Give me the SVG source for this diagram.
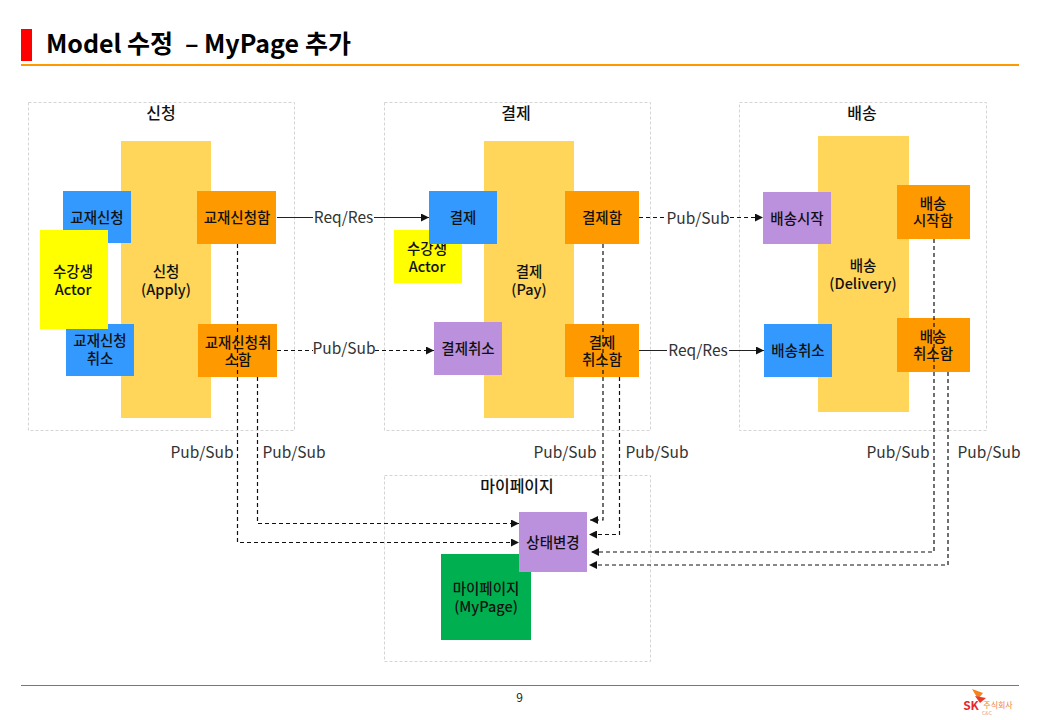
<svg xmlns="http://www.w3.org/2000/svg" width="1040" height="720" viewBox="0 0 1040 720">
<style>
text{font-family:"Noto Sans CJK KR","Noto Sans",sans-serif;fill:#111;text-anchor:middle}
.n{font-size:14.5px;font-weight:500}
.t{font-size:16px;font-weight:500}
.l{font-size:15.5px;font-weight:400;fill:#333}
.p{fill:#fff;stroke:#d4d4d4;stroke-width:1;stroke-dasharray:3 2}
.agg{fill:#ffd55a}.blue{fill:#3399ff}.or{fill:#ff9900}.pur{fill:#bb90dd}.yel{fill:#ffff00}.grn{fill:#00b050}
.c{fill:none;stroke:#111;stroke-width:1.2;stroke-dasharray:4 3}
.s{fill:none;stroke:#222;stroke-width:1.2}
.a{marker-end:url(#ah)}
.bg{fill:#fff}
.h{font-size:25px;font-weight:700;text-anchor:start;fill:#000}
</style>
<defs><marker id="ah" markerUnits="userSpaceOnUse" markerWidth="9" markerHeight="8" refX="8" refY="4" orient="auto"><path d="M0 0L8 4L0 8Z" fill="#111"/></marker></defs>
<rect x="21" y="29" width="11" height="32" fill="#ff0000"/>
<rect x="21" y="64" width="998" height="2" fill="#ff9900"/>
<text class="h" y="53"><tspan x="46">Model</tspan> <tspan x="127">수정</tspan> <tspan x="185">–</tspan> <tspan x="204">MyPage</tspan> <tspan x="305">추가</tspan></text>
<g id="panel-apply"><rect class="p" x="28.5" y="102.5" width="266" height="328"/><text class="t" x="161" y="119">신청</text></g>
<g id="panel-pay"><rect class="p" x="384.5" y="102.5" width="266" height="328"/><text class="t" x="516" y="119">결제</text></g>
<g id="panel-delivery"><rect class="p" x="739.5" y="102.5" width="247" height="328"/><text class="t" x="862" y="119">배송</text></g>
<g id="panel-mypage"><rect class="p" x="384.5" y="475.5" width="266" height="186"/><text class="t" x="517" y="492">마이페이지</text></g>
<g id="agg-apply"><rect class="agg" x="121" y="141" width="90" height="277"/><text class="n" x="166" y="277">신청</text><text class="n" x="166" y="295">(Apply)</text></g>
<g id="agg-pay"><rect class="agg" x="484" y="141" width="90" height="277"/><text class="n" x="529" y="277">결제</text><text class="n" x="529" y="295">(Pay)</text></g>
<g id="agg-delivery"><rect class="agg" x="818" y="136" width="91" height="276"/><text class="n" x="863" y="271">배송</text><text class="n" x="863" y="289">(Delivery)</text></g>
<g id="cmd-apply"><rect class="blue" x="63" y="191" width="68" height="52"/><text class="n" x="97" y="223">교재신청</text></g>
<g id="cmd-apply-cancel"><rect class="blue" x="66" y="324" width="68" height="52"/><text class="n" x="100" y="346">교재신청</text><text class="n" x="100" y="364">취소</text></g>
<g id="actor-apply"><rect class="yel" x="40" y="230" width="68" height="99"/><text class="n" x="73" y="277">수강생</text><text class="n" x="73" y="295">Actor</text></g>
<g id="ev-applied"><rect class="or" x="197" y="191" width="79" height="53"/><text class="n" x="237" y="223">교재신청함</text></g>
<g id="ev-apply-cancelled"><rect class="or" x="198" y="324" width="79" height="53"/><text class="n" x="238" y="348">교재신청취</text><text class="n" x="238" y="365">소함</text></g>
<g id="actor-pay"><rect class="yel" x="394" y="230" width="68" height="53"/><text class="n" x="427" y="254">수강생</text><text class="n" x="427" y="272">Actor</text></g>
<g id="cmd-pay"><rect class="blue" x="429" y="191" width="68" height="53"/><text class="n" x="463" y="223">결제</text></g>
<g id="pol-pay-cancel"><rect class="pur" x="434" y="322" width="68" height="53"/><text class="n" x="468" y="354">결제취소</text></g>
<g id="ev-paid"><rect class="or" x="565" y="191" width="74" height="53"/><text class="n" x="602" y="223">결제함</text></g>
<g id="ev-pay-cancelled"><rect class="or" x="565" y="324" width="74" height="53"/><text class="n" x="602" y="348">결제</text><text class="n" x="602" y="365">취소함</text></g>
<g id="pol-ship"><rect class="pur" x="763" y="192" width="68" height="52"/><text class="n" x="797" y="224">배송시작</text></g>
<g id="cmd-ship-cancel"><rect class="blue" x="764" y="324" width="68" height="53"/><text class="n" x="798" y="356">배송취소</text></g>
<g id="ev-shipped"><rect class="or" x="897" y="185" width="73" height="54"/><text class="n" x="933" y="209">배송</text><text class="n" x="933" y="226">시작함</text></g>
<g id="ev-ship-cancelled"><rect class="or" x="897" y="318" width="73" height="54"/><text class="n" x="933" y="342">배송</text><text class="n" x="933" y="359">취소함</text></g>
<g id="agg-mypage"><rect class="grn" x="441" y="554" width="90" height="86"/><text class="n" x="486" y="594">마이페이지</text><text class="n" x="486" y="612">(MyPage)</text></g>
<g id="pol-status"><rect class="pur" x="519" y="512" width="68" height="60"/><text class="n" x="553" y="548">상태변경</text></g>
<g id="connectors">
<path class="s a" d="M277 217.5H429"/>
<path class="c a" d="M277 350.500H434"/>
<path class="c a" d="M639 217.500H763"/>
<path class="s a" d="M639 350.500H764"/>
<path class="c a" d="M237.500 244V542.500H519"/>
<path class="c a" d="M257.500 377V523.500H519"/>
<path class="c a" d="M603 244V520H590"/>
<path class="c a" d="M619.500 377V534.500H589"/>
<path class="c a" d="M934 239V552H591"/>
<path class="c a" d="M948 372V565H589"/>
<rect class="bg" x="313" y="208" width="61" height="20"/><text class="l" x="343.500" y="223">Req/Res</text>
<rect class="bg" x="313" y="339" width="62" height="20"/><text class="l" x="344" y="354">Pub/Sub</text>
<rect class="bg" x="667" y="209" width="63" height="20"/><text class="l" x="698" y="224">Pub/Sub</text>
<rect class="bg" x="667" y="341" width="62" height="20"/><text class="l" x="698" y="356">Req/Res</text>
<text class="l" x="202" y="458">Pub/Sub</text>
<text class="l" x="294" y="458">Pub/Sub</text>
<text class="l" x="565" y="458">Pub/Sub</text>
<text class="l" x="657" y="458">Pub/Sub</text>
<text class="l" x="898" y="458">Pub/Sub</text>
<text class="l" x="989" y="458">Pub/Sub</text>
</g>
<rect x="21" y="685" width="998" height="1" fill="#777"/>
<text x="519.500" y="702" style="font-size:12px;fill:#222">9</text>
<g id="logo">
<path d="M972 689L983 693L978 699Z" fill="#f58220"/><path d="M975 696L986 698L980 703Z" fill="#e8392b"/>
<text x="971" y="710" style="font-size:12px;font-weight:700;fill:#e8262b">SK</text>
<text x="998" y="708" style="font-size:8px;fill:#f0803c">주식회사</text>
<text x="987" y="715" style="font-size:5px;fill:#f0a070">C&amp;C</text>
</g>
</svg>
